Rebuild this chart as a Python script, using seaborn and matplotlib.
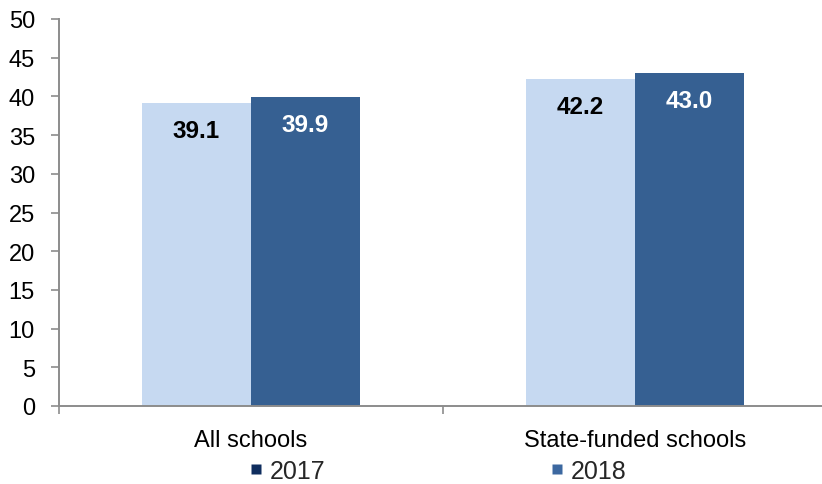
import matplotlib
matplotlib.use("Agg")
import matplotlib.pyplot as plt
from matplotlib.lines import Line2D
import seaborn as sns
import pandas as pd

categories = ["All schools", "State-funded schools"]
years = ["2017", "2018"]
values_2017 = [39.1, 42.2]
values_2018 = [39.9, 43.0]
y_ticks = list(range(0, 55, 5))

bar_colors = {"2017": "#C6D9F1", "2018": "#366092"}
legend_colors = {"2017": "#0F2D5E", "2018": "#3C68A0"}
label_colors = {"2017": "#000000", "2018": "#FFFFFF"}

df = pd.DataFrame({
    "category": categories * 2,
    "year": [years[0]] * len(categories) + [years[1]] * len(categories),
    "value": values_2017 + values_2018,
})

sns.set_theme(style="white")
plt.rcParams["font.family"] = ["Liberation Sans", "DejaVu Sans"]

W, H = 822, 485
fig = plt.figure(figsize=(W / 100, H / 100), dpi=100)
ax = fig.add_axes([58.5 / W, 1 - 407 / H, (827 - 58.5) / W, (407 - 20) / H])

sns.barplot(data=df, x="category", y="value", hue="year", order=categories,
            hue_order=years, palette=bar_colors, width=0.567, saturation=1,
            edgecolor="none", legend=False, ax=ax)

# value labels inside the top of each bar
for container, yr in zip(ax.containers, years):
    for bar in container:
        h = bar.get_height()
        ax.annotate(f"{h:.1f}", (bar.get_x() + bar.get_width() / 2, h),
                    xytext=(0, -27), textcoords="offset pixels",
                    ha="center", va="center", fontsize=17.5, fontweight="bold",
                    color=label_colors[yr])

ax.set_xlim(-0.5, 1.5)
ax.set_ylim(0, 50)
ax.set_yticks(y_ticks)
ax.set_xlabel("")
ax.set_ylabel("")

for side in ["top", "right"]:
    ax.spines[side].set_visible(False)
for side in ["left", "bottom"]:
    ax.spines[side].set_color("#8C8C8C")
    ax.spines[side].set_linewidth(1.4)

ax.tick_params(axis="y", which="major", left=True, length=6, width=1.2,
               color="#8C8C8C", labelsize=17, pad=11, labelcolor="#000000")
ax.set_xticks([0, 1])
ax.set_xticklabels(categories)
ax.tick_params(axis="x", which="major", bottom=False, labelsize=17, pad=10.5,
               labelcolor="#000000")
ax.set_xticks([-0.5, 0.5, 1.5], minor=True)
ax.tick_params(axis="x", which="minor", bottom=True, length=5.5, width=1.2,
               color="#8C8C8C")

handles = [Line2D([0], [0], marker="s", linestyle="none", markersize=7.2,
                  markerfacecolor=legend_colors[y], markeredgecolor="none")
           for y in years]
fig.legend(handles, years, ncol=2, loc="center left",
           bbox_to_anchor=(248 / W, 1 - 472 / H), frameon=False, fontsize=18,
           handletextpad=0.25, columnspacing=9.0, handlelength=0.6,
           borderpad=0, borderaxespad=0)

fig.savefig("out.png", dpi=100)
